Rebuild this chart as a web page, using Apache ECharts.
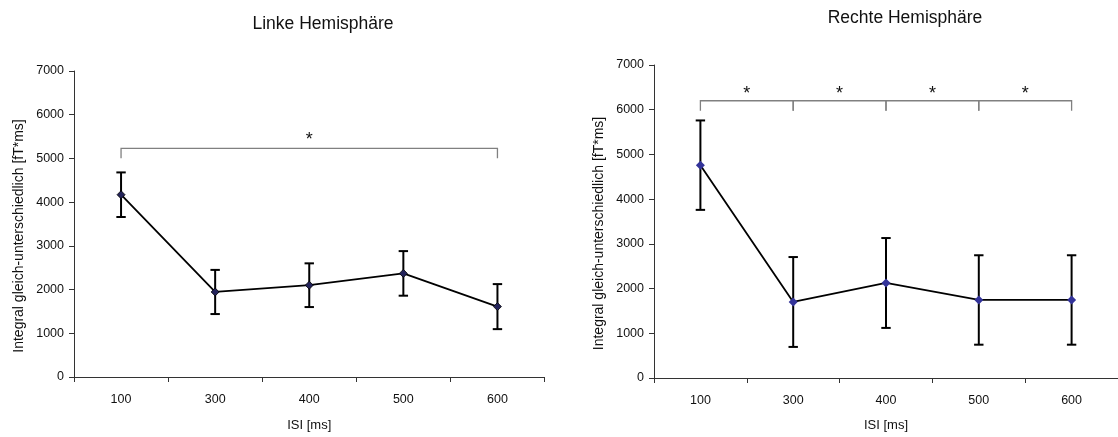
<!DOCTYPE html>
<html><head><meta charset="utf-8">
<script src="https://cdn.jsdelivr.net/npm/echarts@6/dist/echarts.min.js"></script>
<style>html,body{margin:0;padding:0;background:#fff}#c{width:1118px;height:437px}</style>
</head><body><div id="c"></div>
<script>
// ---- data ----
const categories = ['100', '300', '400', '500', '600'];
const leftMeans = [4170, 1945, 2100, 2370, 1610];
const leftErrors = [510, 505, 500, 510, 515];
const rightMeans = [4760, 1700, 2125, 1745, 1745];
const rightErrors = [1000, 1005, 1005, 1000, 1000];
const yMin = 0, yMax = 7000, yStep = 1000;
// significance brackets: [from category index, to category index, bracket height]
const leftBrackets = [[0, 4, 5230]];
const rightBrackets = [[0, 1, 6200], [1, 2, 6200], [2, 3, 6200], [3, 4, 6200]];
const leftTitle = 'Linke Hemisphäre';
const rightTitle = 'Rechte Hemisphäre';
const xName = 'ISI [ms]';
const yName = 'Integral gleich-unterschiedlich [fT*ms]';
const starLabel = '*';

// ---- chart ----
const FONT = "'Liberation Sans', Arial, sans-serif";
const chart = echarts.init(document.getElementById('c'), null, {renderer: 'canvas'});

function errData(means, errs) {
  return means.map((m, i) => [i, m - errs[i], m + errs[i]]);
}
function errRender(params, api) {
  const i = api.value(0);
  const lo = api.coord([i, api.value(1)]);
  const hi = api.coord([i, api.value(2)]);
  const w = 4.7;
  const st = {stroke: '#000', lineWidth: 2};
  return {type: 'group', children: [
    {type: 'line', shape: {x1: lo[0], y1: lo[1], x2: hi[0], y2: hi[1]}, style: st},
    {type: 'line', shape: {x1: hi[0] - w, y1: hi[1], x2: hi[0] + w, y2: hi[1]}, style: st},
    {type: 'line', shape: {x1: lo[0] - w, y1: lo[1], x2: lo[0] + w, y2: lo[1]}, style: st}
  ]};
}
function bracketRender(lift) {
  return function (params, api) {
    const a = api.coord([api.value(0), api.value(2)]);
    const b = api.coord([api.value(1), api.value(2)]);
    const leg = 10;
    return {type: 'group', children: [
      {type: 'polyline', shape: {points: [[a[0], a[1] + leg], [a[0], a[1]], [b[0], b[1]], [b[0], b[1] + leg]]},
        style: {stroke: '#808080', lineWidth: 1.3, fill: null}},
      {type: 'text', x: (a[0] + b[0]) / 2, y: a[1] - lift,
        style: {text: starLabel, font: '18px ' + FONT, fill: '#111', align: 'center', verticalAlign: 'middle'}}
    ]};
  };
}

function xAxisCfg(gi) {
  return {
    type: 'category', gridIndex: gi, data: categories, boundaryGap: true,
    name: xName, nameLocation: 'middle', nameGap: gi === 0 ? 42 : 41,
    nameTextStyle: {fontFamily: FONT, fontSize: 13, color: '#111'},
    axisLine: {lineStyle: {color: '#333', width: 1}},
    axisTick: {show: true, length: 5, interval: 0, lineStyle: {color: '#333'}},
    axisLabel: {margin: 16, fontFamily: FONT, fontSize: 12.5, color: '#111'},
    splitLine: {show: false}
  };
}
function yAxisCfg(gi) {
  return {
    type: 'value', gridIndex: gi, min: yMin, max: yMax, interval: yStep,
    name: yName, nameLocation: 'middle', nameRotate: 90, nameGap: 48,
    nameTextStyle: {fontFamily: FONT, fontSize: 14, color: '#111', padding: [0, 24, 0, 0]},
    axisLine: {show: true, lineStyle: {color: '#333', width: 1}},
    axisTick: {show: true, length: 5, lineStyle: {color: '#333'}},
    axisLabel: {margin: 10, fontFamily: FONT, fontSize: 12.5, color: '#111', formatter: v => String(v)},
    splitLine: {show: false}
  };
}

chart.setOption({
  animation: false,
  backgroundColor: '#fff',
  title: [
    {text: leftTitle, left: 318, top: 10, textAlign: 'center',
      textStyle: {fontFamily: FONT, fontSize: 17.5, fontWeight: 'normal', color: '#111'}},
    {text: rightTitle, left: 900, top: 4, textAlign: 'center',
      textStyle: {fontFamily: FONT, fontSize: 17.5, fontWeight: 'normal', color: '#111'}}
  ],
  grid: [
    {left: 74, top: 71, width: 470.5, height: 307},
    {left: 654, top: 65, width: 476, height: 315}
  ],
  xAxis: [xAxisCfg(0), xAxisCfg(1)],
  yAxis: [yAxisCfg(0), yAxisCfg(1)],
  series: [
    {type: 'custom', xAxisIndex: 0, yAxisIndex: 0, data: errData(leftMeans, leftErrors),
      renderItem: errRender, encode: {x: 0, y: [1, 2]}, z: 2, clip: false},
    {type: 'line', xAxisIndex: 0, yAxisIndex: 0, data: leftMeans, z: 3,
      lineStyle: {color: '#000', width: 1.8}, symbol: 'diamond', symbolSize: 8,
      itemStyle: {color: '#23235a', borderColor: '#000', borderWidth: 0.8}},
    {type: 'custom', xAxisIndex: 0, yAxisIndex: 0, data: leftBrackets,
      renderItem: bracketRender(8.5), encode: {x: [0, 1], y: 2}, z: 2, clip: false},
    {type: 'custom', xAxisIndex: 1, yAxisIndex: 1, data: errData(rightMeans, rightErrors),
      renderItem: errRender, encode: {x: 0, y: [1, 2]}, z: 2, clip: false},
    {type: 'line', xAxisIndex: 1, yAxisIndex: 1, data: rightMeans, z: 3,
      lineStyle: {color: '#000', width: 1.8}, symbol: 'diamond', symbolSize: 9,
      itemStyle: {color: '#333399', borderColor: '#333399', borderWidth: 0}},
    {type: 'custom', xAxisIndex: 1, yAxisIndex: 1, data: rightBrackets,
      renderItem: bracketRender(6.5), encode: {x: [0, 1], y: 2}, z: 2, clip: false}
  ]
});
</script>
</body></html>
